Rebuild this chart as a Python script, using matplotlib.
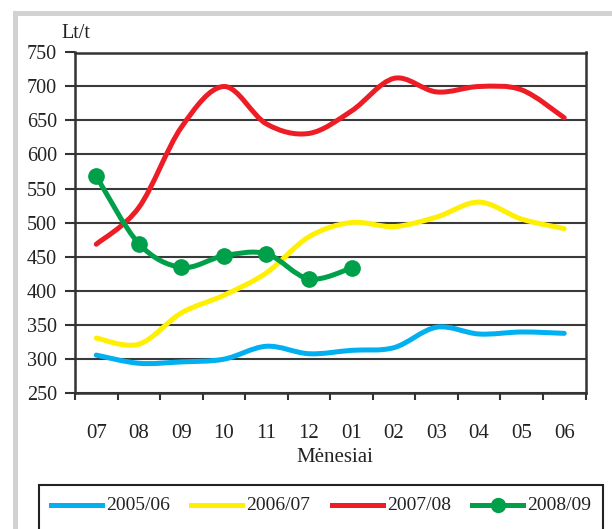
import matplotlib
matplotlib.use('Agg')
import matplotlib.pyplot as plt
from matplotlib.path import Path
from matplotlib.patches import PathPatch, Rectangle
from matplotlib.lines import Line2D

# Data
###############################################################################
months = ['07', '08', '09', '10', '11', '12', '01', '02', '03', '04', '05', '06']
s2005 = [305, 293, 295, 299, 318, 307, 312, 316, 346, 336, 339, 337]
s2006 = [330, 321, 367, 393, 426, 479, 500, 494, 508, 530, 505, 491]
s2007 = [468, 522, 640, 700, 645, 631, 664, 712, 692, 700, 695, 654]
s2008 = [568, 469, 434, 451, 454, 417, 433]
series = [('2005/06', s2005, '#00b0f0', False),
          ('2006/07', s2006, '#ffef00', False),
          ('2007/08', s2007, '#ee1c24', False),
          ('2008/09', s2008, '#00a04a', True)]

W, H = 612, 529
FONT = 'Liberation Serif'


def px(x, y):
    return x / W, 1 - y / H


def smooth_path(ys):
    # excel-like smoothed line, catmull-rom as bezier segments
    pts = list(enumerate(ys))
    verts = [pts[0]]
    codes = [Path.MOVETO]
    n = len(pts)
    for i in range(n - 1):
        p0 = pts[max(i - 1, 0)]
        p1 = pts[i]
        p2 = pts[i + 1]
        p3 = pts[min(i + 2, n - 1)]
        c1 = (p1[0] + (p2[0] - p0[0]) / 6, p1[1] + (p2[1] - p0[1]) / 6)
        c2 = (p2[0] - (p3[0] - p1[0]) / 6, p2[1] - (p3[1] - p1[1]) / 6)
        verts += [c1, c2, p2]
        codes += [Path.CURVE4] * 3
    return Path(verts, codes)


fig = plt.figure(figsize=(W / 100, H / 100), dpi=100)
fig.patch.set_facecolor('white')

# grey frame round the chart
fig.add_artist(Rectangle(px(14.5, 700), (700) / W, (700 - 12.5) / H,
                         transform=fig.transFigure, fill=False,
                         edgecolor='#d2d2d2', linewidth=3.6))

left, right, top, bottom = 75, 585.5, 52.5, 392.5
ax = fig.add_axes([left / W, 1 - bottom / H, (right - left) / W, (bottom - top) / H])

for name, vals, col, marker in series:
    ax.add_patch(PathPatch(smooth_path(vals), fill=False, edgecolor=col,
                           linewidth=3.6, capstyle='round', joinstyle='round', zorder=3))
    if marker:
        ax.plot(range(len(vals)), vals, linestyle='none', marker='o',
                markersize=11, color=col, zorder=4)

ax.set_xlim(-0.5, 11.5)
ax.set_ylim(250, 750)
ax.set_yticks(range(250, 751, 50))
ax.set_xticks(range(len(months)))
ax.set_xticklabels(months)
ax.set_xticks([i - 0.5 for i in range(len(months) + 1)], minor=True)
ax.tick_params(axis='x', which='major', length=0, pad=23, labelsize=15)
ax.tick_params(axis='x', which='minor', length=5, width=1.5, color='#333333', direction='out')
ax.tick_params(axis='y', length=7, width=1.5, color='#333333', pad=6, labelsize=14.5)
for lab in ax.get_xticklabels() + ax.get_yticklabels():
    lab.set_fontfamily(FONT)
    lab.set_color('#222222')
ax.yaxis.grid(True, color='#3a3a3a', linewidth=1.5)
ax.set_axisbelow(True)
for sp in ax.spines.values():
    sp.set_color('#333333')
    sp.set_linewidth(1.8)

fig.text(*px(76, 34), 'Lt/t', fontfamily=FONT, fontsize=14.5, color='#222222',
         ha='center', va='center')
fig.text(*px(335, 457), 'Mėnesiai', fontfamily=FONT, fontsize=15, color='#222222',
         ha='center', va='center')

# legend box
fig.add_artist(Rectangle(px(39, 700), (603 - 39) / W, (700 - 485) / H,
                         transform=fig.transFigure, fill=False,
                         edgecolor='#222222', linewidth=1.5))
legend_x = [51, 191, 332, 472]
for (name, vals, col, marker), x0 in zip(series, legend_x):
    x1 = x0 + 51
    yl = 505
    fig.add_artist(Line2D([x0 / W, x1 / W], [1 - yl / H] * 2, transform=fig.transFigure,
                          color=col, linewidth=3.6))
    if marker:
        fig.add_artist(Line2D([(x0 + x1) / 2 / W], [1 - yl / H], transform=fig.transFigure,
                              marker='o', markersize=10, color=col, linestyle='none'))
    fig.text(*px(x1 + 4, yl), name, fontfamily=FONT, fontsize=14, color='#222222',
             ha='left', va='center')

fig.savefig('out.png', dpi=100)
